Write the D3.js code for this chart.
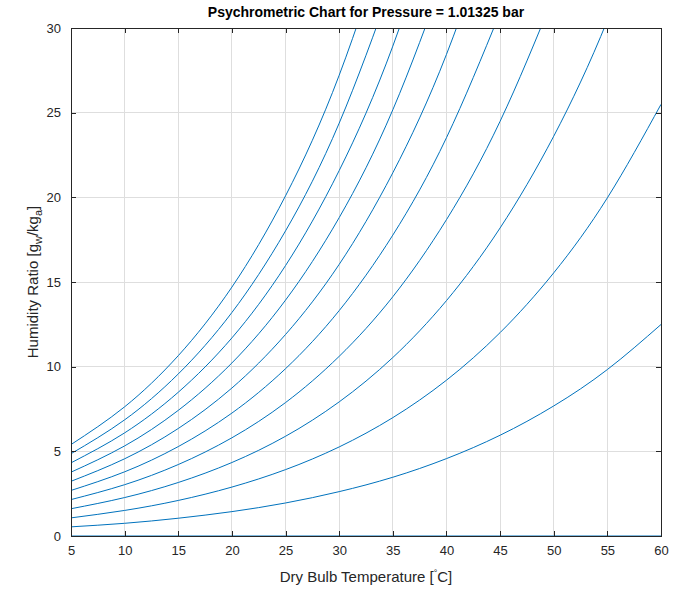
<!DOCTYPE html>
<html>
<head>
<meta charset="utf-8">
<script src="https://cdn.jsdelivr.net/npm/d3@7"></script>
<style>
  body { margin: 0; background: #fff; }
  svg { font-family: "Liberation Sans", Arial, sans-serif; }
</style>
</head>
<body>
<div id="chart"></div>
<script>
// dry bulb temperatures (degC) at which the curves were read
const temps = [5, 10, 15, 20, 25, 30, 35, 40, 45, 50, 55, 60];

// humidity ratio (g_w/kg_a) read per relative humidity curve, 0% .. 100%
const rh0   = [0, 0, 0, 0, 0, 0, 0, 0, 0, 0, 0, 0];
const rh10  = [0.54, 0.75, 1.05, 1.44, 1.95, 2.62, 3.47, 4.57, 5.95, 7.68, 9.83, 12.49];
const rh20  = [1.07, 1.51, 2.10, 2.89, 3.92, 5.26, 6.99, 9.20, 12.01, 15.54, 19.97, 25.49];
const rh30  = [1.61, 2.27, 3.16, 4.34, 5.89, 7.92, 10.54, 13.90, 18.19, 23.61, 30.45, 39.04];
const rh40  = [2.15, 3.03, 4.22, 5.80, 7.88, 10.61, 14.13, 18.68, 24.49, 31.88];
const rh50  = [2.69, 3.79, 5.28, 7.26, 9.88, 13.31, 17.77, 23.52, 30.91];
const rh60  = [3.23, 4.56, 6.35, 8.74, 11.90, 16.04, 21.45, 28.44, 37.47];
const rh70  = [3.77, 5.32, 7.42, 10.22, 13.93, 18.80, 25.17, 33.44];
const rh80  = [4.32, 6.09, 8.49, 11.70, 15.97, 21.58, 28.93, 38.51];
const rh90  = [4.86, 6.86, 9.57, 13.20, 18.02, 24.38, 32.73];
const rh100 = [5.40, 7.63, 10.65, 14.70, 20.09, 27.21, 36.58];

const curves = [rh0, rh10, rh20, rh30, rh40, rh50, rh60, rh70, rh80, rh90, rh100];

const xTicks = [5, 10, 15, 20, 25, 30, 35, 40, 45, 50, 55, 60];
const yTicks = [0, 5, 10, 15, 20, 25, 30];

const width = 688, height = 589;
const margin = { top: 28, right: 27, bottom: 53, left: 71 };
const iw = width - margin.left - margin.right;
const ih = height - margin.top - margin.bottom;

const svg = d3.select("#chart").append("svg")
  .attr("width", width)
  .attr("height", height);

const x = d3.scaleLinear().domain([5, 60]).range([0, iw]);
const y = d3.scaleLinear().domain([0, 30]).range([ih, 0]);

const g = svg.append("g").attr("transform", `translate(${margin.left},${margin.top})`);

svg.append("defs").append("clipPath").attr("id", "clip")
  .append("rect").attr("width", iw).attr("height", ih + 1);

// grid
g.append("g").selectAll("line").data(xTicks.slice(1, -1)).join("line")
  .attr("x1", d => x(d)).attr("x2", d => x(d))
  .attr("y1", 0).attr("y2", ih)
  .attr("stroke", "#dedede").attr("stroke-width", 1).attr("shape-rendering", "crispEdges");
g.append("g").selectAll("line").data(yTicks.slice(1, -1)).join("line")
  .attr("y1", d => y(d)).attr("y2", d => y(d))
  .attr("x1", 0).attr("x2", iw)
  .attr("stroke", "#dedede").attr("stroke-width", 1).attr("shape-rendering", "crispEdges");

// curves
const line = d3.line()
  .x((d, i) => x(temps[i]))
  .y(d => y(d))
  .curve(d3.curveNatural);

g.append("g").attr("clip-path", "url(#clip)")
  .selectAll("path").data(curves).join("path")
  .attr("d", d => line(d))
  .attr("fill", "none")
  .attr("stroke", "#0072BD")
  .attr("stroke-width", 1);

// axes (matlab style: ticks inward, box)
const axisColor = "#262626";
const xAxis = g.append("g").attr("transform", `translate(0,${ih})`)
  .call(d3.axisBottom(x).tickValues(xTicks).tickSize(-5).tickPadding(10));
const xTop = g.append("g")
  .call(d3.axisTop(x).tickValues(xTicks).tickSize(-5).tickFormat(""));
const yAxis = g.append("g")
  .call(d3.axisLeft(y).tickValues(yTicks).tickSize(-5).tickPadding(10));
const yRight = g.append("g").attr("transform", `translate(${iw},0)`)
  .call(d3.axisRight(y).tickValues(yTicks).tickSize(-5).tickFormat(""));

[xAxis, xTop, yAxis, yRight].forEach(a => {
  a.selectAll("path").attr("stroke", axisColor).attr("shape-rendering", "crispEdges");
  a.selectAll("line").attr("stroke", axisColor).attr("shape-rendering", "crispEdges");
  a.selectAll("text").attr("fill", axisColor).style("font-size", "13px");
});

// title
svg.append("text")
  .attr("x", margin.left + iw / 2).attr("y", 17)
  .attr("text-anchor", "middle")
  .style("font-size", "14px").style("font-weight", "bold").attr("fill", "#000")
  .text("Psychrometric Chart for Pressure = 1.01325 bar");

// x label
const xl = svg.append("text")
  .attr("x", margin.left + iw / 2).attr("y", 582)
  .attr("text-anchor", "middle")
  .style("font-size", "15px").attr("fill", axisColor);
xl.append("tspan").text("Dry Bulb Temperature [");
xl.append("tspan").attr("dy", -6).style("font-size", "9px").text("\u00B0");
xl.append("tspan").attr("dy", 6).text("C]");

// y label
const yl = svg.append("text")
  .attr("transform", `translate(38,${margin.top + ih / 2}) rotate(-90)`)
  .attr("text-anchor", "middle")
  .style("font-size", "15px").attr("fill", axisColor);
yl.append("tspan").text("Humidity Ratio [g");
yl.append("tspan").attr("dy", 4).style("font-size", "11px").text("w");
yl.append("tspan").attr("dy", -4).text("/kg");
yl.append("tspan").attr("dy", 4).style("font-size", "11px").text("a");
yl.append("tspan").attr("dy", -4).text("]");
</script>
</body>
</html>
